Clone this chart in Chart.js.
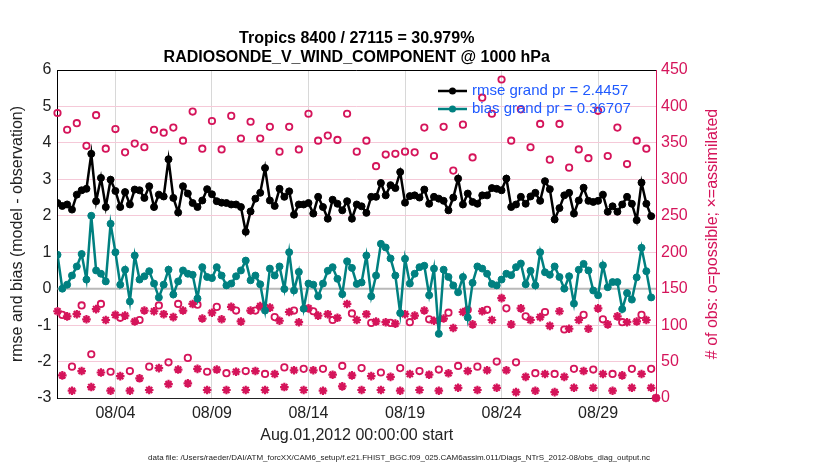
<!DOCTYPE html>
<html>
<head>
<meta charset="utf-8">
<title>RADIOSONDE_V_WIND_COMPONENT @ 1000 hPa</title>
<script src="https://cdn.jsdelivr.net/npm/chart.js@4.4.1/dist/chart.umd.min.js"></script>
<style>
  html, body { margin: 0; padding: 0; background: #fff; }
  #wrap { width: 830px; height: 470px; }
</style>
</head>
<body>
<div id="wrap"><canvas id="obsChart" width="830" height="470"></canvas></div>
<script>
// ---- data (6-hourly, starting Aug.01 2012 00Z) ----
const titleLines = ['Tropics 8400 / 27115 = 30.979%', 'RADIOSONDE_V_WIND_COMPONENT @ 1000 hPa'];
const startLabel = 'Aug.01,2012 00:00:00 start';
const footerText = 'data file: /Users/raeder/DAI/ATM_forcXX/CAM6_setup/f.e21.FHIST_BGC.f09_025.CAM6assim.011/Diags_NTrS_2012-08/obs_diag_output.nc';
const stepDays = 0.25;   // one analysis every 6 hours
const tickDays = [3, 8, 13, 18, 23, 28];
const tickLabels = ['08/04', '08/09', '08/14', '08/19', '08/24', '08/29'];
const rmseGrand = '2.4457';
const biasGrand = '0.36707';

const rmse = [
  2.35, 2.27, 2.31, 2.17, 2.58, 2.70, 2.74, 3.70, 2.40, 3.04,
  2.24, 2.99, 2.68, 2.24, 2.65, 2.31, 2.72, 2.70, 2.49, 2.81,
  2.24, 2.58, 2.53, 3.55, 2.49, 2.09, 2.81, 2.61, 2.35, 2.24,
  2.42, 2.73, 2.59, 2.40, 2.36, 2.35, 2.31, 2.31, 2.24, 1.56,
  2.12, 2.47, 2.63, 3.31, 2.42, 2.27, 2.74, 2.52, 2.67, 2.03,
  2.31, 2.31, 2.35, 2.06, 2.52, 2.24, 1.92, 2.44, 2.33, 2.15,
  2.40, 1.92, 2.31, 2.26, 2.08, 2.52, 2.52, 2.90, 2.56, 2.84,
  2.76, 3.20, 2.36, 2.54, 2.56, 2.50, 2.72, 2.33, 2.52, 2.47,
  2.41, 2.15, 2.50, 3.02, 2.31, 2.61, 2.38, 2.33, 2.56, 2.56,
  2.76, 2.74, 2.70, 3.02, 2.24, 2.31, 2.52, 2.33, 2.53, 2.63,
  2.41, 2.95, 2.73, 1.90, 2.21, 2.56, 2.63, 2.06, 2.42, 2.77,
  2.41, 2.38, 2.41, 2.58, 2.11, 2.26, 2.11, 2.31, 2.52, 2.33,
  1.88, 2.91, 2.33, 1.99
];

const bias = [
  0.93, 0.00, 0.11, 0.36, 0.61, 0.95, 0.25, 2.00, 0.50, 0.41,
  0.20, 1.78, 1.00, 0.11, 0.52, -0.35, 0.91, 0.25, 0.34, 0.48,
  0.14, -0.24, 0.11, 0.52, -0.16, 0.20, 0.50, 0.41, 0.38, -0.27,
  0.59, 0.32, 0.29, 0.59, 0.36, 0.09, 0.14, 0.34, 0.50, 0.77,
  0.23, 0.36, 0.12, -0.60, 0.55, 0.36, 0.61, -0.01, 1.00, -0.05,
  0.46, -0.55, 0.14, 0.11, -0.21, 0.14, 0.49, 0.59, 0.27, -0.15,
  0.75, 0.57, 0.13, 0.17, 0.91, -0.21, 0.36, 1.23, 1.13, 0.83,
  0.36, -0.67, 0.82, 0.14, 0.41, 0.59, 0.63, -0.18, 0.55, -1.24,
  0.52, 0.32, 0.09, -0.10, 0.32, -0.79, 0.16, 0.61, 0.55, 0.41,
  0.13, 0.09, 0.25, 0.41, 0.37, 0.59, 0.69, 0.12, 0.49, 0.09,
  1.00, 0.45, 0.38, 0.61, 0.32, 0.00, 0.34, -0.41, 0.52, 0.68,
  0.50, -0.05, -0.18, 0.64, 0.04, 0.18, 0.18, -0.56, -0.12, -0.30,
  0.31, 1.12, 0.48, -0.24
];

// # of obs possible (o) and assimilated (*), right axis
const possible = [
  391, 114, 368, 43, 377, 127, 346, 60, 388, 129,
  342, 36, 369, 110, 337, 37, 349, 107, 344, 43,
  368, 127, 364, 49, 371, 129, 353, 55, 393, 128,
  342, 36, 380, 125, 341, 34, 387, 120, 356, 37,
  379, 120, 356, 33, 372, 111, 338, 42, 372, 120,
  341, 40, 390, 119, 353, 40, 360, 107, 354, 44,
  390, 116, 338, 41, 353, 103, 318, 35, 334, 103,
  335, 41, 338, 104, 337, 37, 371, 108, 332, 39,
  372, 117, 312, 44, 375, 121, 330, 43, 412, 121,
  390, 50, 437, 123, 353, 49, 396, 112, 344, 34,
  376, 118, 327, 33, 376, 94, 316, 40, 341, 114,
  329, 39, 394, 108, 332, 33, 371, 104, 321, 40,
  353, 114, 342, 40, 0
];

const assimilated = [
  119, 31, 112, 10, 115, 37, 108, 15, 122, 35,
  107, 10, 114, 30, 113, 10, 105, 27, 120, 11,
  119, 41, 115, 19, 111, 39, 120, 20, 129, 40,
  109, 11, 117, 39, 108, 11, 125, 36, 105, 11,
  120, 37, 126, 11, 124, 33, 106, 15, 118, 38,
  104, 11, 123, 38, 113, 10, 115, 32, 110, 16,
  129, 31, 107, 11, 115, 30, 105, 11, 104, 29,
  102, 10, 115, 33, 113, 11, 120, 32, 106, 10,
  109, 34, 96, 14, 118, 37, 101, 11, 119, 38,
  107, 14, 137, 38, 101, 8, 123, 29, 107, 10,
  111, 33, 99, 8, 119, 29, 95, 14, 107, 37,
  95, 14, 123, 33, 101, 10, 112, 31, 104, 14,
  105, 33, 107, 14, 0
];

const CRIMSON = '#d5145a';
const TEAL = '#008080';
const FONT = '"Liberation Sans", Arial, Helvetica, sans-serif';

Chart.defaults.font.family = FONT;
Chart.defaults.color = '#222';

const toPoints = arr => arr.map((v, i) => ({ x: i * stepDays, y: v }));

// titles, legend, right-axis label, footer and the zero line
const decorations = {
  id: 'decorations',
  beforeDatasetsDraw(chart) {
    const { ctx, chartArea: a, scales } = chart;
    const y0 = scales.y.getPixelForValue(0);
    ctx.save();
    ctx.strokeStyle = '#b9b9b9';
    ctx.lineWidth = 2;
    ctx.beginPath();
    ctx.moveTo(a.left, y0);
    ctx.lineTo(a.right, y0);
    ctx.stroke();
    ctx.restore();
  },
  afterDraw(chart) {
    const { ctx, chartArea: a } = chart;
    const cx = (a.left + a.right) / 2;
    ctx.save();

    // top edge of the box
    ctx.strokeStyle = '#000';
    ctx.lineWidth = 1;
    ctx.beginPath();
    ctx.moveTo(a.left, a.top + 0.5);
    ctx.lineTo(a.right, a.top + 0.5);
    ctx.stroke();

    ctx.fillStyle = '#000';
    ctx.textAlign = 'center';
    ctx.textBaseline = 'middle';
    ctx.font = 'bold 16px ' + FONT;
    ctx.fillText(titleLines[0], cx, 39);
    ctx.fillText(titleLines[1], cx, 58);

    // legend
    const rows = [
      { color: '#000', text: 'rmse grand pr = ' + rmseGrand, y: 91 },
      { color: TEAL, text: 'bias grand pr = ' + biasGrand, y: 109 }
    ];
    ctx.font = '15px ' + FONT;
    ctx.textAlign = 'left';
    rows.forEach(r => {
      ctx.strokeStyle = r.color;
      ctx.lineWidth = 2.5;
      ctx.beginPath();
      ctx.moveTo(438, r.y);
      ctx.lineTo(467, r.y);
      ctx.stroke();
      ctx.fillStyle = r.color;
      ctx.beginPath();
      ctx.arc(452.5, r.y, 3.5, 0, Math.PI * 2);
      ctx.fill();
      ctx.fillStyle = '#1f5aff';
      ctx.fillText(r.text, 472, r.y);
    });

    // right axis title, reads bottom to top
    ctx.save();
    ctx.translate(713, (a.top + a.bottom) / 2);
    ctx.rotate(-Math.PI / 2);
    ctx.textAlign = 'center';
    ctx.fillStyle = CRIMSON;
    ctx.font = '16px ' + FONT;
    ctx.fillText('# of obs: o=possible; \u00d7=assimilated', 0, 0);
    ctx.restore();

    // footer
    ctx.fillStyle = '#222';
    ctx.textAlign = 'center';
    ctx.font = '8px ' + FONT;
    ctx.fillText(footerText, 399, 458);

    ctx.restore();
  }
};

new Chart(document.getElementById('obsChart'), {
  type: 'line',
  data: {
    datasets: [
      {
        label: 'rmse grand pr = ' + rmseGrand,
        data: toPoints(rmse),
        yAxisID: 'y',
        borderColor: '#000',
        backgroundColor: '#000',
        borderWidth: 2.5,
        pointRadius: 3.5,
        pointBorderWidth: 1,
        tension: 0
      },
      {
        label: 'bias grand pr = ' + biasGrand,
        data: toPoints(bias),
        yAxisID: 'y',
        borderColor: TEAL,
        backgroundColor: TEAL,
        borderWidth: 2.5,
        pointRadius: 3.5,
        pointBorderWidth: 1,
        tension: 0
      },
      {
        label: 'possible',
        data: toPoints(possible),
        yAxisID: 'y2',
        showLine: false,
        pointStyle: 'circle',
        pointRadius: 3.2,
        pointBorderWidth: 1.8,
        pointBorderColor: CRIMSON,
        pointBackgroundColor: 'rgba(0,0,0,0)',
        clip: false
      },
      {
        label: 'assimilated',
        data: toPoints(assimilated),
        yAxisID: 'y2',
        showLine: false,
        pointStyle: 'star',
        pointRadius: 4.3,
        pointBorderWidth: 2.2,
        pointBorderColor: CRIMSON,
        pointBackgroundColor: CRIMSON,
        clip: false
      }
    ]
  },
  options: {
    responsive: false,
    animation: false,
    layout: { padding: { left: 0, right: 104, top: 70, bottom: 22 } },
    plugins: {
      legend: { display: false },
      tooltip: { enabled: false },
      title: { display: false }
    },
    scales: {
      x: {
        type: 'linear',
        min: 0,
        max: 31,
        afterBuildTicks: s => { s.ticks = tickDays.map(v => ({ value: v })); },
        afterFit: s => { s.height = 50; },
        ticks: {
          autoSkip: false,
          maxRotation: 0,
          padding: 6,
          font: { size: 16 },
          color: '#222',
          callback: v => tickLabels[tickDays.indexOf(v)]
        },
        grid: { color: '#d8d8d8', drawTicks: false },
        border: { color: '#222' },
        title: {
          display: true,
          text: startLabel,
          font: { size: 16 },
          color: '#222',
          padding: { top: 0, bottom: 3 }
        }
      },
      y: {
        position: 'left',
        min: -3,
        max: 6,
        afterFit: s => { s.width = 57.5; },
        ticks: { stepSize: 1, padding: 6, font: { size: 16 }, color: '#222' },
        grid: { display: false, drawTicks: false },
        border: { color: '#000' },
        title: {
          display: true,
          text: 'rmse and bias (model - observation)',
          font: { size: 16 },
          color: '#222',
          padding: { top: 8, bottom: 0 }
        }
      },
      y2: {
        position: 'right',
        min: 0,
        max: 450,
        afterFit: s => { s.width = 70; },
        ticks: { stepSize: 50, padding: 5, font: { size: 16 }, color: CRIMSON },
        grid: { color: '#f5c9d8', drawTicks: false },
        border: { color: CRIMSON }
      }
    }
  },
  plugins: [decorations]
});
</script>
</body>
</html>
